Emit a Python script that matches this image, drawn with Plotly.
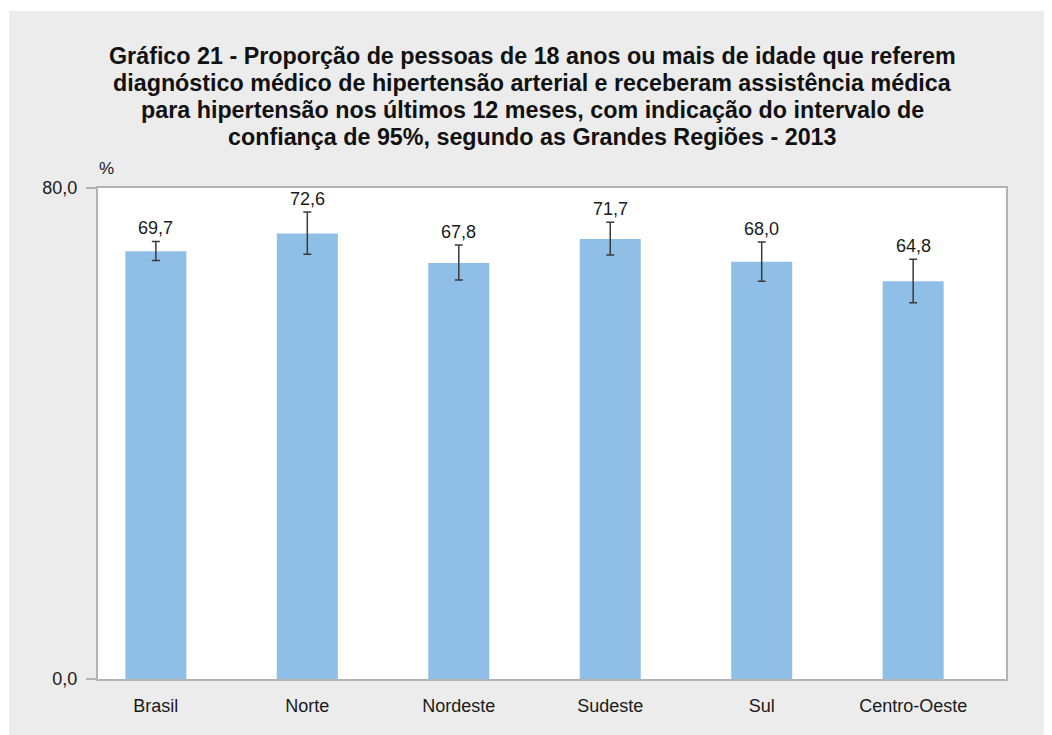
import plotly.graph_objects as go

categories = ["Brasil", "Norte", "Nordeste", "Sudeste", "Sul", "Centro-Oeste"]
values = [69.7, 72.6, 67.8, 71.7, 68.0, 64.8]
ci_lower = [68.2, 69.2, 65.0, 69.1, 64.8, 61.3]
ci_upper = [71.3, 76.1, 70.7, 74.4, 71.2, 68.4]
value_labels = ["69,7", "72,6", "67,8", "71,7", "68,0", "64,8"]
y_tickvals = [0, 80]
y_ticktext = ["0,0", "80,0"]

title_lines = [
    "Gráfico 21 - Proporção de pessoas de 18 anos ou mais de idade que referem",
    "diagnóstico médico de hipertensão arterial e receberam assistência médica",
    "para hipertensão nos últimos 12 meses, com indicação do intervalo de",
    "confiança de 95%, segundo as Grandes Regiões - 2013",
]

W, H = 1052, 735
L, R, T, B = 90, 54, 180, 64
pw, ph = W - L - R, H - T - B

def px_x(x):
    return (x - L) / pw

def px_y(y):
    return (H - B - y) / ph

font_family = "Liberation Sans, Arial, sans-serif"

fig = go.Figure()
fig.add_trace(go.Bar(
    x=categories, y=values, width=0.403,
    marker=dict(color="#8fbfe6", line=dict(width=0)),
    error_y=dict(type="data", symmetric=False,
                 array=[u - v for u, v in zip(ci_upper, values)],
                 arrayminus=[v - l for v, l in zip(values, ci_lower)],
                 color="#3a3a3a", thickness=1.5, width=4),
    hoverinfo="skip",
))

annotations = []
for c, u, t in zip(categories, ci_upper, value_labels):
    annotations.append(dict(x=c, y=u, text=t, showarrow=False, yanchor="bottom",
                            yshift=1, font=dict(size=18, color="#1a1a1a", family=font_family)))
title_y = [48.5, 75.2, 101.9, 128.6]
for line, yy in zip(title_lines, title_y):
    annotations.append(dict(xref="paper", yref="paper", x=px_x(524.0), y=px_y(yy),
                            text="<b>" + line + "</b>", showarrow=False,
                            xanchor="center", yanchor="middle",
                            font=dict(size=23.3, color="#111111", family=font_family)))
annotations.append(dict(xref="paper", yref="paper", x=px_x(89), y=px_y(161),
                        text="%", showarrow=False, xanchor="left", yanchor="middle",
                        font=dict(size=17, color="#1a1a1a", family=font_family)))

fig.update_layout(
    width=W, height=H,
    margin=dict(l=L, r=R, t=T, b=B, pad=0),
    paper_bgcolor="#ececec", plot_bgcolor="#ffffff",
    showlegend=False,
    font=dict(family=font_family, size=18, color="#1a1a1a"),
    annotations=annotations,
    shapes=[
        dict(type="rect", xref="paper", yref="paper", x0=px_x(0), x1=px_x(1),
             y0=px_y(H), y1=px_y(0), fillcolor="white", line=dict(width=0), layer="above"),
        dict(type="rect", xref="paper", yref="paper", x0=px_x(0), x1=px_x(W),
             y0=px_y(3), y1=px_y(0), fillcolor="white", line=dict(width=0), layer="above"),
    ],
)
fig.update_xaxes(range=[-0.382, 5.613], showline=True, linecolor="#b3b3b3", linewidth=2,
                 mirror=True, ticks="", showgrid=False, tickfont=dict(size=18),
                 ticklabelstandoff=9)
fig.update_yaxes(range=[0, 80], tickvals=y_tickvals, ticktext=y_ticktext,
                 showline=True, linecolor="#b3b3b3", linewidth=2, mirror=True,
                 ticks="outside", ticklen=10, tickcolor="#b3b3b3", tickwidth=2,
                 showgrid=False, zeroline=False, tickfont=dict(size=18),
                 ticklabelstandoff=5)

fig.write_html("out.html")
